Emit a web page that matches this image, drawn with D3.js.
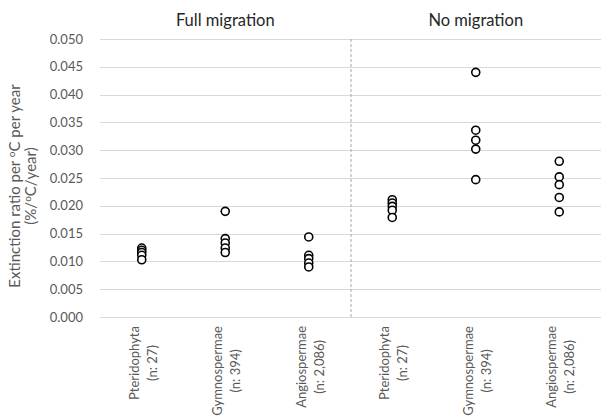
<!DOCTYPE html>
<html>
<head>
<meta charset="utf-8">
<script src="https://cdn.jsdelivr.net/npm/d3@7"></script>
<style>
  html, body { margin: 0; padding: 0; background: #fff; }
  svg { display: block; font-family: Lato, "Open Sans", sans-serif; }
</style>
</head>
<body>
<svg id="chart" width="601" height="418"></svg>
<script>
// Extinction ratio per degree of warming, by plant group and migration scenario
const scenarios = ["Full migration", "No migration"];
const groups = ["Pteridophyta", "Gymnospermae", "Angiospermae"];
const groupCounts = ["(n: 27)", "(n: 394)", "(n: 2,086)"];

// one value per model run, per group
const fullMigration = [
  [0.0124, 0.0120, 0.0116, 0.0111, 0.0103],
  [0.0190, 0.0141, 0.0133, 0.0124, 0.0116],
  [0.0144, 0.0111, 0.0105, 0.0097, 0.0090]
];
const noMigration = [
  [0.0211, 0.0205, 0.0199, 0.0192, 0.0179],
  [0.0440, 0.0336, 0.0318, 0.0302, 0.0247],
  [0.0280, 0.0252, 0.0238, 0.0215, 0.0189]
];
const yTickValues = [0, 0.005, 0.01, 0.015, 0.02, 0.025, 0.03, 0.035, 0.04, 0.045, 0.05];

const svg = d3.select("#chart");
const plotLeft = 100, plotRight = 601, plotTop = 39, plotBottom = 317;

const columns = [];
scenarios.forEach((s, si) => groups.forEach((g, gi) => columns.push({ s: si, g: gi })));
const x = d3.scaleBand().domain(d3.range(columns.length)).range([plotLeft, plotRight]);
const y = d3.scaleLinear().domain([0, 0.05]).range([plotBottom, plotTop]);

// horizontal gridlines
svg.append("g").selectAll("line").data(yTickValues).join("line")
  .attr("x1", plotLeft).attr("x2", plotRight)
  .attr("y1", d => Math.round(y(d)) + 0.5).attr("y2", d => Math.round(y(d)) + 0.5)
  .attr("stroke", "#d9d9d9").attr("stroke-width", 1);

// y axis labels
const yAxis = d3.axisLeft(y).tickValues(yTickValues).tickFormat(d3.format(".3f")).tickSize(0).tickPadding(0);
const yg = svg.append("g").attr("transform", `translate(${plotLeft - 17},0)`).call(yAxis);
yg.select(".domain").remove();
yg.selectAll("text").attr("font-size", 13).attr("fill", "#595959")
  .attr("font-family", "Lato, 'Open Sans', sans-serif");

// dashed separator between scenarios
const sepX = x(3);
svg.append("line")
  .attr("x1", sepX + 0.5).attr("x2", sepX + 0.5).attr("y1", plotTop).attr("y2", plotBottom)
  .attr("stroke", "#a6a6a6").attr("stroke-dasharray", "3,2").attr("stroke-width", 1);

// scenario titles
scenarios.forEach((s, si) => {
  const x0 = si === 0 ? plotLeft : sepX;
  const x1 = si === 0 ? sepX : plotRight;
  svg.append("text").attr("x", (x0 + x1) / 2).attr("y", 26)
    .attr("text-anchor", "middle").attr("font-size", 16.5).attr("fill", "#262626").text(s);
});

// points
const points = [];
columns.forEach((c, i) => {
  const vals = (c.s === 0 ? fullMigration : noMigration)[c.g];
  vals.forEach(v => points.push({ i, v }));
});
svg.append("g").selectAll("circle").data(points).join("circle")
  .attr("cx", d => x(d.i) + x.bandwidth() / 2)
  .attr("cy", d => y(d.v))
  .attr("r", 4)
  .attr("fill", "#fff").attr("stroke", "#000").attr("stroke-width", 1.6);

// category labels, rotated, block top-aligned under the axis
columns.forEach((c, i) => {
  const cx = x(i) + x.bandwidth() / 2;
  const lines = [groups[c.g], groupCounts[c.g]];
  const g = svg.append("g");
  const texts = lines.map((t, li) => g.append("text")
    .attr("font-size", 13).attr("fill", "#595959").attr("text-anchor", "middle").text(t));
  const maxW = d3.max(texts, t => t.node().getComputedTextLength());
  const cy = 326 + maxW / 2;
  texts.forEach((t, li) => {
    const bx = cx - 3 + li * 18;
    t.attr("transform", `translate(${bx},${cy}) rotate(-90)`);
  });
});

// y axis title
const yt = svg.append("g").attr("transform", `translate(0,186) rotate(-90)`);
const t1 = yt.append("text").attr("x", 0).attr("y", 20).attr("text-anchor", "middle")
  .attr("font-size", 15).attr("fill", "#595959");
t1.append("tspan").text("Extinction ratio per ");
t1.append("tspan").attr("font-size", 10).attr("dy", -5).text("o");
t1.append("tspan").attr("dy", 5).text("C per year");
const t2 = yt.append("text").attr("x", 0).attr("y", 36).attr("text-anchor", "middle")
  .attr("font-size", 15).attr("fill", "#595959");
t2.append("tspan").text("(%/");
t2.append("tspan").attr("font-size", 10).attr("dy", -5).text("o");
t2.append("tspan").attr("dy", 5).text("C/year)");
</script>
</body>
</html>
